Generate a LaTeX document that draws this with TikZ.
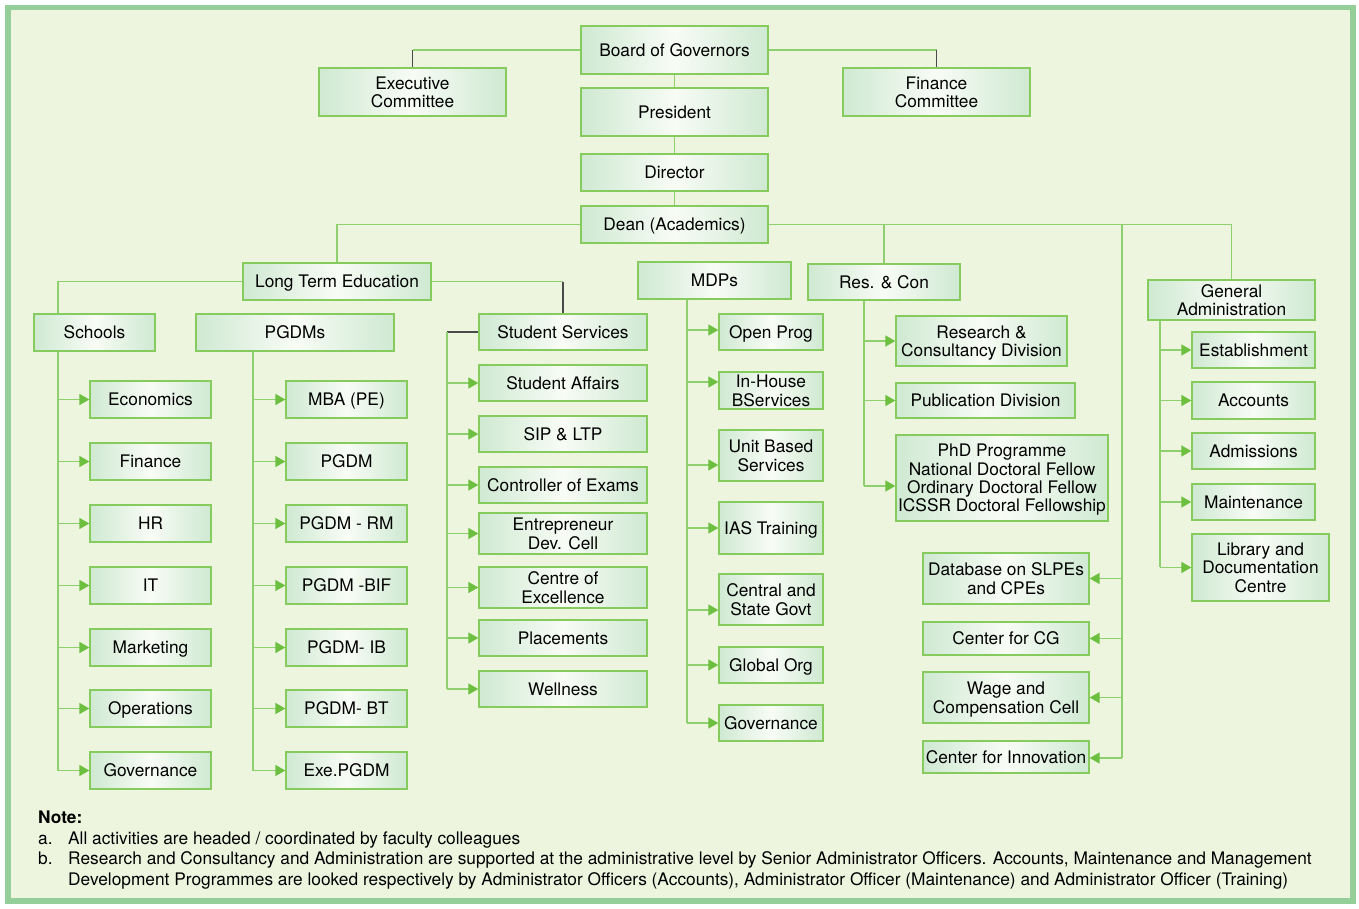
\documentclass[tikz,border=0pt]{standalone}
\usepackage{fontspec}
\setmainfont{TeX Gyre Heros}
\usetikzlibrary{arrows.meta}
\definecolor{framec}{HTML}{94CF9A}
\definecolor{bgc}{HTML}{EDF5DF}
\definecolor{boxb}{HTML}{86CB5E}
\definecolor{boxe}{HTML}{CFE9D2}
\definecolor{boxm}{HTML}{F8FCF5}
\definecolor{linec}{HTML}{8ED06E}
\definecolor{arrc}{HTML}{6CBF3F}
\definecolor{darkc}{HTML}{4A4A4A}
\pgfdeclarelayer{bg}
\pgfsetlayers{bg,main}
\tikzset{
  bx/.style={draw=boxb, line width=1.4pt, left color=boxe, right color=boxe, middle color=boxm,
    inner sep=0pt, align=center, text depth=0pt, font=\fontsize{17.3}{18.4}\selectfont, text=black},
  gl/.style={draw=linec, line width=1.5pt},
  dk/.style={draw=darkc, line width=1.3pt},
  ar/.style={gl, -{Triangle[length=10pt,width=11pt,color=arrc]}},
  notetext/.style={anchor=base west, inner sep=0pt, font=\fontsize{17.3}{20}\selectfont}
}
\newcommand\mybox[6]{\node[bx, minimum width={#4-#2}, minimum height={#5-#3}] (#1) at ({(#2+#4)/2},{(#3+#5)/2}) {#6};}
\begin{document}
\begin{tikzpicture}[x=1pt,y=-1pt]
\useasboundingbox (0,0) rectangle (1359,909);
\begin{pgfonlayer}{bg}
\fill[white] (0,0) rectangle (1359,909);
\draw[draw=framec, fill=bgc, line width=5.5pt] (8,7.5) rectangle (1353,901);
\end{pgfonlayer}
% top
\mybox{board}{581}{26}{768}{74}{Board of Governors}
\mybox{exec}{319}{68}{506}{116}{Executive\\Committee}
\mybox{fin}{843}{68}{1030}{116}{Finance\\Committee}
\mybox{pres}{581}{88}{768}{136}{President}
\mybox{dir}{581}{154}{768}{191}{Director}
\mybox{dean}{581}{206}{768}{243}{Dean (Academics)}
% second level
\mybox{lte}{243}{263}{431}{300}{Long Term Education}
\mybox{mdps}{638}{262}{791}{299}{MDPs}
\mybox{res}{808}{264}{960}{300}{Res. \& Con}
\mybox{ga}{1148}{280}{1315}{320}{General\\Administration}
\mybox{schools}{34}{314}{155}{351}{Schools}
\mybox{pgdms}{196}{314}{394}{351}{PGDMs}
\mybox{ss}{479}{314}{647}{350}{Student Services}
% schools
\mybox{eco}{90}{381}{211}{418}{Economics}
\mybox{finc}{90}{443}{211}{480}{Finance}
\mybox{hr}{90}{505}{211}{542}{HR}
\mybox{it}{90}{567}{211}{604}{IT}
\mybox{mkt}{90}{629}{211}{666}{Marketing}
\mybox{ops}{90}{690}{211}{727}{Operations}
\mybox{gov}{90}{752}{211}{789}{Governance}
% pgdms
\mybox{mba}{286}{381}{407}{418}{MBA (PE)}
\mybox{pgdm}{286}{443}{407}{480}{PGDM}
\mybox{rm}{286}{505}{407}{542}{PGDM - RM}
\mybox{bif}{286}{567}{407}{604}{PGDM -BIF}
\mybox{ib}{286}{629}{407}{666}{PGDM- IB}
\mybox{bt}{286}{690}{407}{727}{PGDM- BT}
\mybox{exe}{286}{752}{407}{789}{Exe.PGDM}
% student services
\mybox{sa}{479}{365}{647}{401}{Student Affairs}
\mybox{sip}{479}{416}{647}{452}{SIP \& LTP}
\mybox{coe}{479}{467}{647}{503}{Controller of Exams}
\mybox{ent}{479}{513}{647}{554}{Entrepreneur\\Dev. Cell}
\mybox{cex}{479}{567}{647}{608}{Centre of\\Excellence}
\mybox{plc}{479}{620}{647}{656}{Placements}
\mybox{well}{479}{671}{647}{707}{Wellness}
% MDPs
\mybox{op}{719}{314}{823}{350}{Open Prog}
\mybox{ih}{719}{372}{823}{409}{In-House\\BServices}
\mybox{ub}{719}{430}{823}{481}{Unit Based\\Services}
\mybox{ias}{719}{502}{823}{554}{IAS Training}
\mybox{csg}{719}{574}{823}{625}{Central and\\State Govt}
\mybox{glo}{719}{647}{823}{683}{Global Org}
\mybox{mgov}{719}{705}{823}{741}{Governance}
% Res & Con
\mybox{rcd}{896}{316}{1067}{366}{Research \&\\Consultancy Division}
\mybox{pub}{896}{383}{1075}{418}{Publication Division}
\mybox{phd}{896}{435}{1108}{521}{PhD Programme\\National Doctoral Fellow\\Ordinary Doctoral Fellow\\ICSSR Doctoral Fellowship}
% General Administration
\mybox{est}{1192}{332}{1315}{368}{Establishment}
\mybox{acc}{1192}{382}{1315}{419}{Accounts}
\mybox{adm}{1192}{433}{1315}{469}{Admissions}
\mybox{mnt}{1192}{484}{1315}{520}{Maintenance}
\mybox{lib}{1192}{534}{1329}{601}{Library and\\Documentation\\Centre}
% right column
\mybox{db}{923}{553}{1089}{604}{Database on SLPEs\\and CPEs}
\mybox{cg}{923}{622}{1089}{655}{Center for CG}
\mybox{wage}{923}{672}{1089}{723}{Wage and\\Compensation Cell}
\mybox{inno}{923}{741}{1089}{773}{Center for Innovation}
% notes
\node[notetext, font=\fontsize{17.3}{20}\selectfont\bfseries] (note) at (38,823) {Note:};
\node[notetext] (na) at (38,844) {a.};
\node[notetext] (nat) at (68,844) {All activities are headed / coordinated by faculty colleagues};
\node[notetext] (nb) at (38,864) {b.};
\node[notetext] (nbt) at (68,864) {Research and Consultancy and Administration are supported at the administrative level by Senior Administrator Officers. Accounts, Maintenance and Management};
\node[notetext] (nbt2) at (68,885) {Development Programmes are looked respectively by Administrator Officers (Accounts), Administrator Officer (Maintenance) and Administrator Officer (Training)};
% connectors
\coordinate (sv) at (58,771);
\coordinate (pv) at (253,771);
\coordinate (ssv) at (447,689);
\coordinate (mv) at (687,723);
\coordinate (resv) at (864,486);
\coordinate (rv) at (1122,758);
\coordinate (gav) at (1160,567);
\begin{pgfonlayer}{bg}
\draw[gl] (board.west) -- (board.west -| exec.north);
\draw[dk] (board.west -| exec.north) -- (exec.north);
\draw[gl] (board.east) -- (board.east -| fin.north);
\draw[dk] (board.east -| fin.north) -- (fin.north);
\draw[gl] (board.south) -- (pres.north);
\draw[gl] (pres.south) -- (dir.north);
\draw[gl] (dir.south) -- (dean.north);
\draw[gl] (dean.west) -| (lte.north);
\draw[gl] (dean.east) -| (ga.north);
\draw[gl] (dean.east -| res.north) -- (res.north);
\draw[gl] (dean.east -| rv) -- (rv);
\draw[gl] (lte.west) -| (sv);
\draw[gl] (lte.east) -- (lte.east -| ss.north);
\draw[dk] (lte.east -| ss.north) -- (ss.north);
\draw[dk] (ss.west) -- (ss.west -| ssv);
\draw[gl] (ss.west -| ssv) -- (ssv);
\draw[gl] (pgdms.south -| pv) -- (pv);
\draw[gl] (mdps.south -| mv) -- (mv);
\draw[gl] (res.south -| resv) -- (resv);
\draw[gl] (ga.south -| gav) -- (gav);
\end{pgfonlayer}
\foreach \n in {eco,finc,hr,it,mkt,ops,gov} \draw[ar] (sv |- \n.west) -- (\n.west);
\foreach \n in {mba,pgdm,rm,bif,ib,bt,exe} \draw[ar] (pv |- \n.west) -- (\n.west);
\foreach \n in {sa,sip,coe,ent,cex,plc,well} \draw[ar] (ssv |- \n.west) -- (\n.west);
\foreach \n/\yy in {op/330,ih/382,ub/465,ias/528,csg/610,glo/665,mgov/723} \draw[ar] (mv |- 0,\yy) -- (op.west |- 0,\yy);
\draw[ar] (resv |- rcd.west) -- (rcd.west);
\draw[ar] (resv |- pub.west) -- (pub.west);
\draw[ar] (resv) -- (phd.west |- resv);
\foreach \n in {est,acc,adm,mnt,lib} \draw[ar] (gav |- \n.west) -- (\n.west);
\foreach \n in {db,cg,wage} \draw[ar] (rv |- \n.east) -- (\n.east);
\draw[ar] (rv) -- (inno.east |- rv);
\end{tikzpicture}
\end{document}
